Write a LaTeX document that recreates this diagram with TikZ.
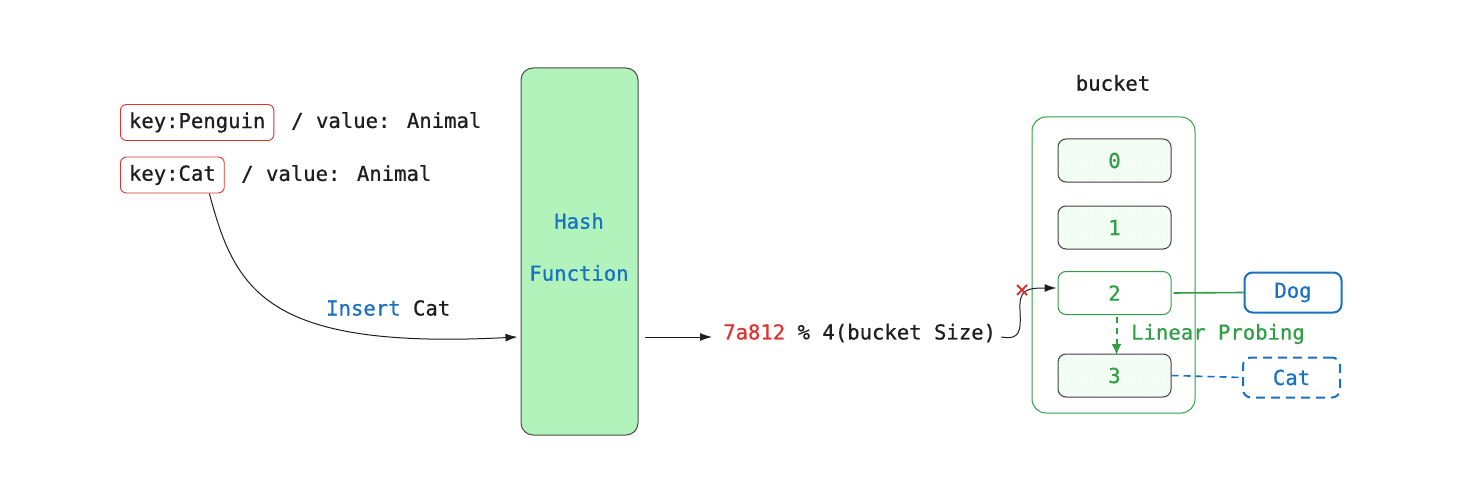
\documentclass[tikz,border=0pt]{standalone}
\usepackage{fontspec}
\newfontface\hfont{DejaVu Sans Mono}[FakeBold=0.7]
\usetikzlibrary{arrows.meta,patterns}

\definecolor{hgreen}{HTML}{B2F2BB}
\definecolor{dgreen}{HTML}{2F9E44}
\definecolor{hblue}{HTML}{1971C2}
\definecolor{hred}{HTML}{E03131}
\definecolor{ink}{HTML}{1E1E1E}

\tikzset{
  txt/.style={font=\hfont\fontsize{20.6}{24}\selectfont, text=ink, inner sep=0pt},
  keybox/.style={txt, draw=hred, line width=0.9pt, rounded corners=6pt, inner xsep=8.5pt, minimum height=36pt},
  slot/.style={txt, text=dgreen, draw=ink!85, line width=1pt, rounded corners=8pt,
    minimum width=113pt, minimum height=43pt, pattern=crosshatch, pattern color=hgreen!30},
  valbox/.style={txt, text=hblue, draw=hblue, line width=2pt, rounded corners=8pt,
    minimum width=97pt, minimum height=40pt},
  arr/.style={-{Latex[length=12pt,width=8pt]}, ink, line width=1pt},
}

\begin{document}
\begin{tikzpicture}[x=1pt,y=-1pt]
    \useasboundingbox (0,0) rectangle (1483,500);

    % Keys and values
    \node[keybox, anchor=west] (kpeng) at (120,122.5) {key:Penguin};
    \node[txt, anchor=west] (vpeng) at (291,121) {/ value: Animal};
    \node[keybox, anchor=west] (kcat) at (120,175) {key:Cat};
    \node[txt, anchor=west] (vcat) at (241,174) {/ value: Animal};

    % Hash function
    \node[draw=ink!80, fill=hgreen, line width=1pt, rounded corners=12pt,
          minimum width=117pt, minimum height=367pt, inner sep=0pt] (hash) at (579.5,251.5) {};
    \node[txt, text=hblue] (hashA) at (579,221) {Hash};
    \node[txt, text=hblue] (hashB) at (579,273) {Function};

    % Insert
    \draw[arr] (kcat.south) ++(37,0) coordinate (kcs)
      (kcs) .. controls (235,290) and (265,350) .. ([xshift=-3pt]hash.west |- 0,337);
    \node[txt, anchor=west] (ins) at (326,308) {\textcolor{hblue}{Insert} Cat};

    % Hash value
    \coordinate (hout) at (645,337);
    \node[txt, anchor=west] (hval) at (723,333) {\textcolor{hred}{7a812} \% 4(bucket Size)};
    \draw[arr] (hout) -- (712,337);

    % Bucket
    \node[txt] (blabel) at (1113,83) {bucket};
    \node[draw=dgreen, line width=1pt, rounded corners=14pt, minimum width=163pt,
          minimum height=296pt, inner sep=0pt] (bucket) at (1113.5,265) {};
    \node[slot] (s0) at (1114.5,160.5) {0};
    \node[slot] (s1) at (1114.5,227.5) {1};
    \node[slot, fill=hgreen, draw=dgreen, pattern=none] (s2) at (1114.5,293) {2};
    \node[slot] (s3) at (1114.5,375.5) {3};

    % Collision path
    \draw[arr] (hval.east) ++(5,4) coordinate (hve)
      (hve) .. controls (1020,340) and (1021,332) .. (1020,310)
      .. controls (1019,290) and (1026,288) .. ([xshift=-1pt]s2.west |- 0,288);
    \draw[hred, line width=1.8pt] (1017,285) -- (1027,295) (1017,295) -- (1027,285);

    % Values
    \node[valbox] (dog) at (1293,292.5) {Dog};
    \node[valbox, dash pattern=on 9pt off 6pt] (cat) at (1291.5,377.5) {Cat};
    \draw[dgreen, line width=1.6pt] (s2.east) ++(2,0) -- (dog.west);
    \draw[hblue, line width=1.6pt, dash pattern=on 7pt off 5pt] (s3.east) -- (cat.west);

    % Linear probing
    \draw[-{Latex[length=11pt,width=10pt]}, dgreen, line width=2pt, dash pattern=on 6pt off 5pt]
      (s2.south) ++(2,2) -- ++(0,38);
    \node[txt, text=dgreen, anchor=west] (probe) at (1131,334) {Linear Probing};
\end{tikzpicture}
\end{document}
